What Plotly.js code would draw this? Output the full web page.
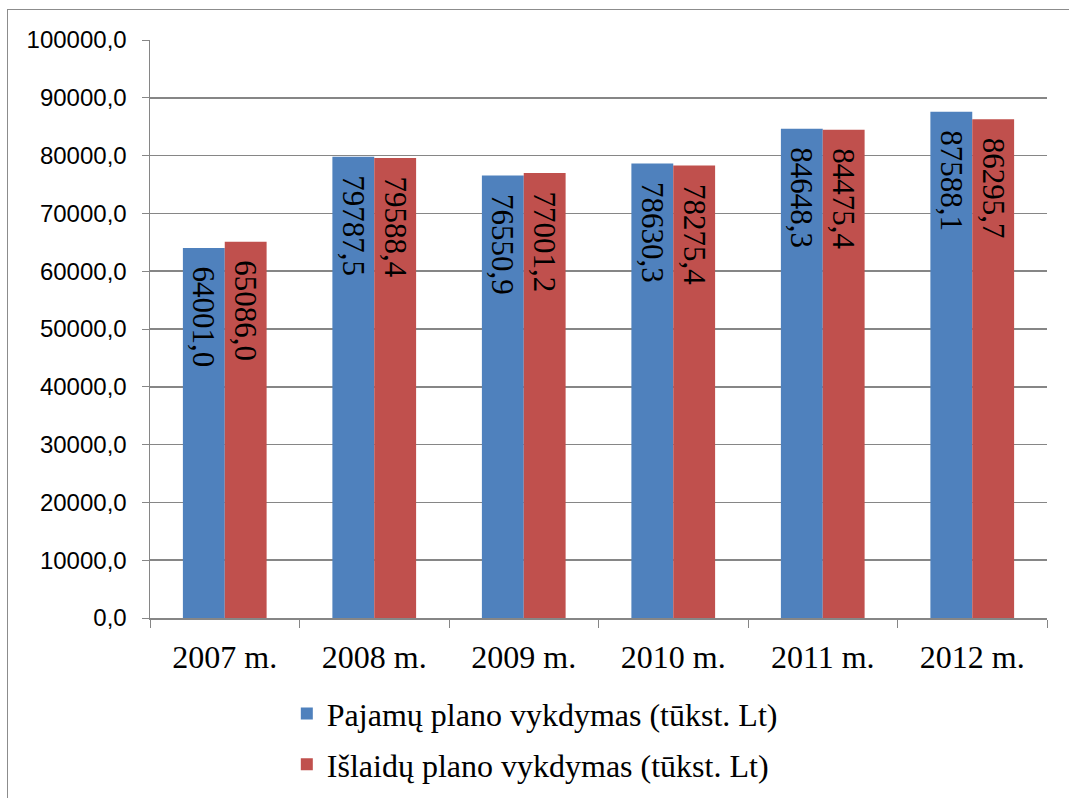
<!DOCTYPE html>
<html><head><meta charset="utf-8">
<script src="https://cdn.plot.ly/plotly-3.0.1.min.js"></script>
<style>
html,body{margin:0;padding:0;background:#fff;overflow:hidden}
#frame{position:absolute;left:7px;top:9px;width:1080px;height:820px;border:1.5px solid #8c8c8c;box-sizing:border-box}
#chart{position:absolute;left:0;top:0;width:1069px;height:798px}
</style></head>
<body>
<div id="frame"></div>
<div id="chart"></div>
<script>
const categories = ['2007 m.', '2008 m.', '2009 m.', '2010 m.', '2011 m.', '2012 m.'];
const incomeValues = [64001.0, 79787.5, 76550.9, 78630.3, 84648.3, 87588.1];
const expenseValues = [65086.0, 79588.4, 77001.2, 78275.4, 84475.4, 86295.7];
const seriesNames = ['Pajamų plano vykdymas (tūkst. Lt)', 'Išlaidų plano vykdymas (tūkst. Lt)'];
const yTicks = [0, 10000, 20000, 30000, 40000, 50000, 60000, 70000, 80000, 90000, 100000];

const serif = '"Liberation Serif", "Times New Roman", serif';
const labelFont = {family: 'Liberation Serif', size: 31, color: '#000'};
const common = {
  type: 'bar', x: categories,
  texttemplate: '\u00a0\u00a0%{y:.1f}',
  textposition: 'inside',
  insidetextanchor: 'end', textangle: 90, constraintext: 'none',
  textfont: labelFont, insidetextfont: labelFont, hoverinfo: 'skip'
};
const data = [
  Object.assign({}, common, {name: seriesNames[0], legendgroup: 'a', y: incomeValues, marker: {color: '#4f81bd'}}),
  Object.assign({}, common, {name: seriesNames[1], legendgroup: 'b', y: expenseValues, marker: {color: '#c0504d'}})
];
const layout = {
  width: 1069, height: 798,
  margin: {l: 150, r: 22, t: 40, b: 180},
  font: {family: serif, color: '#000'},
  paper_bgcolor: 'rgba(0,0,0,0)', plot_bgcolor: '#fff',
  separators: ', ',
  barmode: 'group', bargap: 0.44, bargroupgap: 0,
  showlegend: true,
  legend: {orientation: 'v', x: 0.429, xanchor: 'center', yref: 'container', y: 0.14, yanchor: 'top',
           traceorder: 'grouped',
           font: {family: serif, size: 32, color: '#000'}, tracegroupgap: 6, itemwidth: 30},
  xaxis: {
    type: 'category', tickson: 'boundaries', ticks: 'outside', ticklen: 8, tickcolor: '#868686',
    showline: true, linecolor: '#868686', linewidth: 1.5, showgrid: false, ticklabelstandoff: 10,
    tickfont: {family: serif, size: 32, color: '#000'}, zeroline: false
  },
  yaxis: {
    range: [0, 100000], tickvals: yTicks, tickformat: '.1f', ticks: 'outside', ticklen: 7,
    tickcolor: '#868686', showline: true, linecolor: '#868686', linewidth: 1.5,
    showgrid: true, gridcolor: '#868686', gridwidth: 1.5, zeroline: false, ticklabelstandoff: 10,
    tickfont: {family: '"Liberation Sans", Arial, sans-serif', size: 24, color: '#000'}
  }
};
Plotly.newPlot('chart', data, layout, {displayModeBar: false, staticPlot: true}).then(function(){
  document.querySelectorAll('#chart text.bartext').forEach(function(t){
    t.style.setProperty('font-family', 'Liberation Serif', 'important');
    t.querySelectorAll('tspan').forEach(function(s){ s.style.setProperty('font-family', 'Liberation Serif', 'important'); });
  });
});
</script>
</body></html>
